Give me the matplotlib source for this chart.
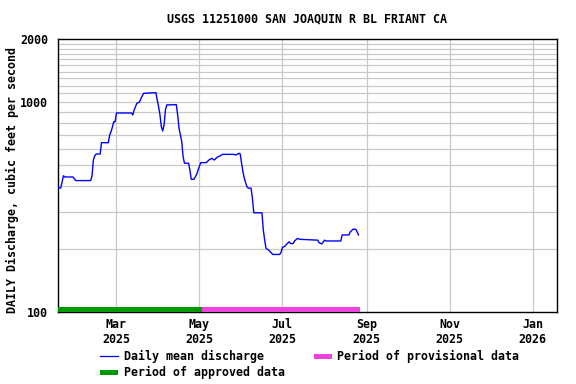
import matplotlib
matplotlib.use("Agg")
import matplotlib.pyplot as plt
import matplotlib.dates as mdates
from matplotlib.lines import Line2D
from matplotlib.patches import Rectangle
from matplotlib.ticker import FixedLocator, NullFormatter
import pandas as pd

# ---- data ----
start_date = "2025-01-17"
day_offsets = [0, 2, 4, 5, 11, 13, 24, 25, 26, 27, 28, 31, 32, 37, 38, 39, 40, 41, 42, 43,
               54, 55, 56, 58, 60, 61, 63, 72, 73, 74, 75, 76, 77, 78, 79, 80, 87, 88, 89, 90,
               91, 92, 93, 96, 97, 98, 100, 102, 103, 105, 109, 111, 113, 115, 117, 119, 121,
               129, 131, 133, 134, 135, 136, 137, 138, 139, 140, 142, 143, 144, 150, 151, 152,
               153, 155, 156, 158, 163, 164, 165, 167, 168, 170, 171, 173, 174, 176, 178, 191,
               192, 194, 196, 197, 208, 209, 214, 215, 217, 219, 220, 221]
discharge = [390, 390, 446, 440, 440, 423, 423, 445, 530, 554, 566, 566, 641, 641, 698, 723, 760, 807, 807, 888,
             888, 869, 918, 988, 1002, 1043, 1102, 1110, 1023, 950, 869, 764, 729, 778, 918, 970, 973, 869, 751, 700,
             648, 550, 512, 512, 475, 429, 429, 453, 475, 515, 515, 530, 540, 530, 546, 554, 564,
             564, 560, 571, 567, 512, 467, 434, 413, 395, 389, 389, 348, 297, 297, 246, 220,
             201, 197, 194, 188, 188, 192, 203, 206, 210, 216, 212, 212, 218, 224, 222, 220,
             214, 211, 220, 218, 218, 233, 233, 241, 248, 248, 241, 233]
approved_period = ("2025-01-17", "2025-05-03")
provisional_period = ("2025-05-03", "2025-08-27")
x_range = ("2025-01-17", "2026-01-19")
y_range = (100, 2000)
month_ticks = ["2025-03-01", "2025-05-01", "2025-07-01", "2025-09-01", "2025-11-01", "2026-01-01"]
month_labels = ["Mar\n2025", "May\n2025", "Jul\n2025", "Sep\n2025", "Nov\n2025", "Jan\n2026"]
y_major = [100, 1000, 2000]
y_major_labels = ["100", "1000", "2000"]
y_minor = [200, 300, 400, 500, 600, 700, 800, 900, 1100, 1200, 1300, 1400, 1500, 1600, 1700, 1800, 1900]
title = "USGS 11251000 SAN JOAQUIN R BL FRIANT CA"
ylabel = "DAILY Discharge, cubic feet per second"
legend_labels = ["Daily mean discharge", "Period of provisional data", "Period of approved data"]

BLUE, GREEN, PINK = "#0000ff", "#009900", "#ee44dd"

# ---- plot ----
FONT = {"family": "DejaVu Sans Mono", "weight": "bold", "size": 8.4}
plt.rcParams["font.family"] = "DejaVu Sans Mono"
plt.rcParams["font.weight"] = "bold"
plt.rcParams["font.size"] = 8.4

W, H = 576, 384
fig = plt.figure(figsize=(5.76, 3.84), dpi=100)
ax = fig.add_axes([58/W, 1-312/H, (557-58)/W, (312-39)/H])

dates = pd.to_datetime(start_date) + pd.to_timedelta(day_offsets, unit="D")
ax.set_yscale("log")
ax.set_ylim(*y_range)
ax.set_xlim(pd.to_datetime(x_range[0]), pd.to_datetime(x_range[1]))

# grid
for v in y_minor + [1000]:
    ax.axhline(v, color="#c8c8c8", lw=0.9, zorder=0)
for d in month_ticks:
    ax.axvline(pd.to_datetime(d), color="#c8c8c8", lw=0.9, zorder=0)

ax.plot(dates, discharge, color=BLUE, lw=1.0, zorder=3)

# period bars
tr = ax.get_xaxis_transform()
for (a, b), col in [(approved_period, GREEN), (provisional_period, PINK)]:
    x0 = mdates.date2num(pd.to_datetime(a))
    x1 = mdates.date2num(pd.to_datetime(b))
    ax.add_patch(Rectangle((x0, 0), x1 - x0, 0.019, transform=tr, color=col, lw=0, zorder=4))

ax.xaxis.set_major_locator(FixedLocator(mdates.date2num(pd.to_datetime(month_ticks))))
ax.set_xticklabels(month_labels, fontdict=FONT, linespacing=1.15)
ax.yaxis.set_major_locator(FixedLocator(y_major))
ax.yaxis.set_minor_locator(FixedLocator(y_minor))
ax.yaxis.set_minor_formatter(NullFormatter())
ax.set_yticklabels(y_major_labels, fontdict=FONT)
ax.tick_params(axis="x", length=0, pad=4.5)
ax.tick_params(axis="y", which="both", length=0, pad=7)
for s in ax.spines.values():
    s.set_linewidth(1.0)
    s.set_color("black")

fig.text(307/W, 1-19/H, title, ha="center", va="center", fontdict=FONT)
fig.text(12/W, 1-180/H, ylabel, ha="center", va="center", rotation=90, fontdict=FONT)

# legend (manual placement)
fig.add_artist(Line2D([100/W, 118/W], [1-356/H, 1-356/H], color=BLUE, lw=0.9, transform=fig.transFigure))
fig.add_artist(Rectangle((314/W, 1-359/H), 18/W, 5/H, color=PINK, lw=0, transform=fig.transFigure))
fig.add_artist(Rectangle((100/W, 1-375/H), 18/W, 5/H, color=GREEN, lw=0, transform=fig.transFigure))
fig.text(124/W, 1-356/H, legend_labels[0], ha="left", va="center", fontdict=FONT)
fig.text(337/W, 1-356/H, legend_labels[1], ha="left", va="center", fontdict=FONT)
fig.text(124/W, 1-372/H, legend_labels[2], ha="left", va="center", fontdict=FONT)

fig.savefig("out.png", dpi=100)
